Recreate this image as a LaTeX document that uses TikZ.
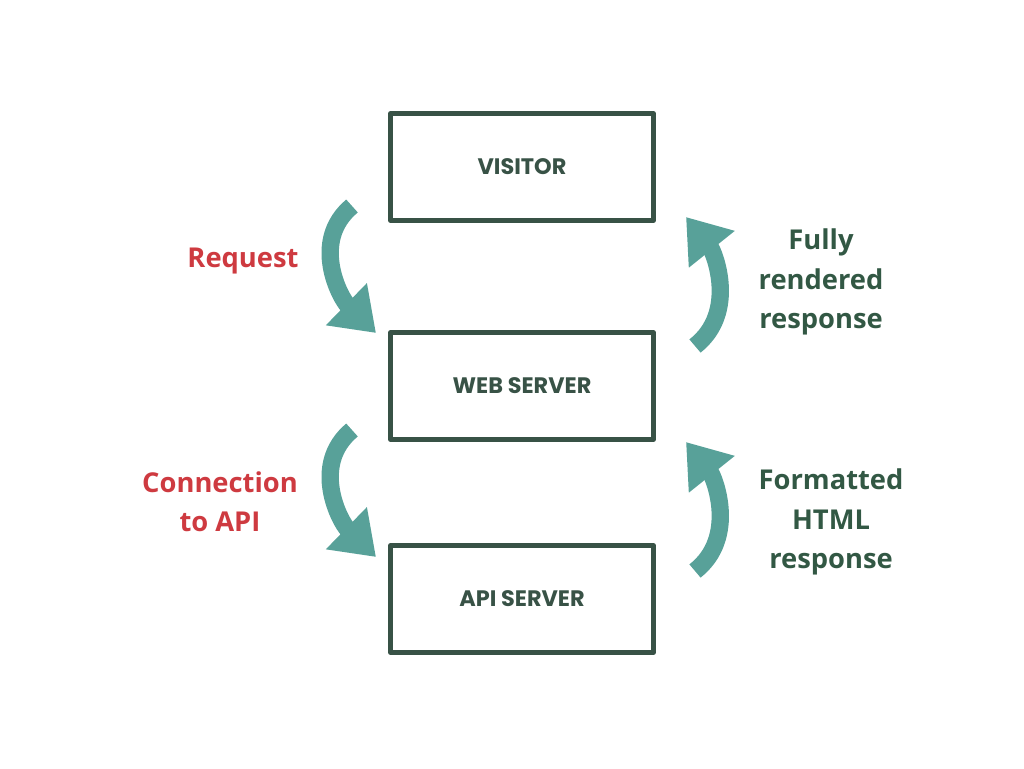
\documentclass[tikz,border=0pt]{standalone}
\usepackage{fontspec}
\setmainfont{Open Sans}
\newfontfamily\boxfont{Poppins}
\usetikzlibrary{arrows.meta,positioning}

\begin{document}
\begin{tikzpicture}[x=0.75pt, y=-0.75pt, line join=round]

		% Colours
		\definecolor{boxgreen}{RGB}{56, 82, 70}
		\definecolor{arrowteal}{RGB}{88, 161, 153}
		\definecolor{reqred}{RGB}{206, 58, 64}
		\definecolor{resgreen}{RGB}{50, 88, 68}

		\tikzset{
			tier/.style={draw=boxgreen, line width=4pt, minimum width=197pt, minimum height=80pt,
				font=\boxfont\bfseries\fontsize{16.8}{20}\selectfont, text=boxgreen},
			flow/.style={arrowteal, line width=13pt, -{Triangle[length=31pt, width=42pt]}},
			reqlabel/.style={text=reqred, align=center, font=\bfseries\fontsize{20.5}{29.5}\selectfont},
			reslabel/.style={text=resgreen, align=center, font=\bfseries\fontsize{20.5}{29.5}\selectfont}
		}

		% Canvas
		\useasboundingbox (0, 0) rectangle (1024, 768);

		% 1. Tiers
		\node[tier] (visitor) at (522, 167) {VISITOR};
		\node[tier] (web) at (522, 386) {WEB SERVER};
		\node[tier] (api) at (522, 599) {API SERVER};

		% 2. Arrow end points
		\coordinate (ReqStart) at (352, 206);
		\coordinate (ReqEnd) at (376, 333);
		\coordinate (ConStart) at (352, 430);
		\coordinate (ConEnd) at (376, 557);
		\coordinate (ResStart) at (695, 346);
		\coordinate (ResEnd) at (686, 217);
		\coordinate (FmtStart) at (695, 571);
		\coordinate (FmtEnd) at (686, 442);

		% 3. Downward arrows (requests)
		\draw[flow] (ReqStart) .. controls (310, 241) and (340, 298) .. (ReqEnd);
		\draw[flow] (ConStart) .. controls (310, 465) and (340, 522) .. (ConEnd);

		% 4. Upward arrows (responses)
		\draw[flow] (ResStart) .. controls (738, 312) and (714, 252) .. (ResEnd);
		\draw[flow] (FmtStart) .. controls (738, 537) and (714, 477) .. (FmtEnd);

		% 5. Labels
		\node[reqlabel] (request) at (243, 261) {Request};
		\node[reqlabel] (connection) at (220, 502) {Connection\\to API};
		\node[reslabel] (rendered) at (821, 282) {Fully\\rendered\\response};
		\node[reslabel] (formatted) at (831, 522) {Formatted\\HTML\\response};

	\end{tikzpicture}
\end{document}
